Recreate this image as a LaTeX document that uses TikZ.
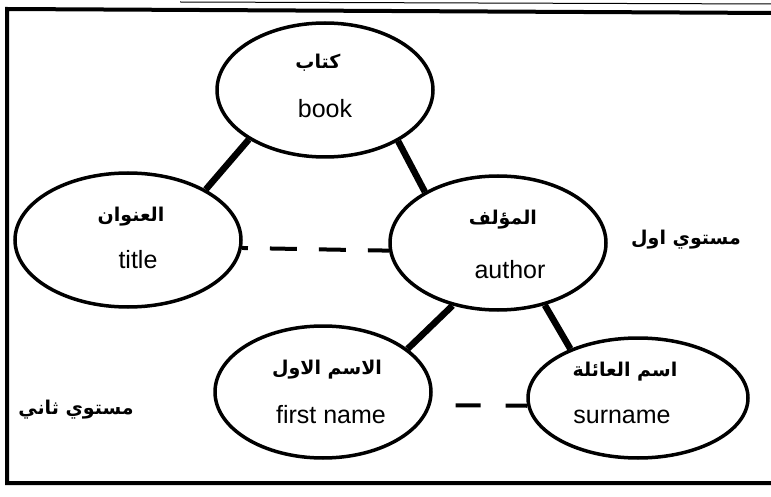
\documentclass[tikz,border=0pt]{standalone}
\usepackage{fontspec}
\setmainfont{Liberation Sans}
\newfontfamily\arabicfont[Script=Arabic]{DejaVu Sans}
\TeXXeTstate=1
\usetikzlibrary{shapes.geometric, positioning}

\begin{document}
\begin{tikzpicture}[x=1pt, y=-1pt,
    entity/.style={ellipse, draw, line width=3.5pt, minimum width=216pt, minimum height=134pt, inner sep=0pt},
    link/.style={line width=6.5pt},
    rel/.style={line width=4pt},
    ar/.style={font=\arabicfont\bfseries\fontsize{19}{23}\selectfont},
    en/.style={font=\fontsize{25}{30}\selectfont, anchor=base}]
\useasboundingbox (0,0) rectangle (771,497);
\draw[line width=1pt] (180,2) -- (775,4);
\draw[line width=4pt] (775,13) -- (7,9) -- (7,483) -- (775,483);

\node[entity] (book) at (325,90) {};
\node[entity, minimum width=226pt] (title) at (128,240) {};
\node[entity] (author) at (498,243) {};
\node[entity, minimum height=132pt] (first) at (323,392) {};
\node[entity, minimum width=220pt, minimum height=120pt] (surname) at (638,398) {};

\node[ar] (bookar) at (318,63) {\beginR كتاب\endR};
\node[en] (booken) at (325,118) {book};
\node[ar] (titlear) at (131,217) {\beginR العنوان\endR};
\node[en] (titleen) at (138,268) {title};
\node[ar] (authorar) at (503,220) {\beginR المؤلف\endR};
\node[en] (authoren) at (510,278) {author};
\node[ar] (firstar) at (327,370) {\beginR الاسم الاول\endR};
\node[en] (firsten) at (331,423) {first name};
\node[ar] (surnamear) at (625,372) {\beginR اسم العائلة\endR};
\node[en] (surnameen) at (622,423) {surname};

\node[ar] (level1) at (686,240) {\beginR مستوي اول\endR};
\node[ar] (level2) at (76,410) {\beginR مستوي ثاني\endR};

\draw[link] (book.213) -- (title.33);
\draw[link] (book.-35) -- (author.145);
\draw[link] (author.234) -- (first.27);
\draw[link] (author.-53) -- (surname.144);

\draw[rel, dash pattern=on 27pt off 22pt, dash phase=21pt] (title.-4) -- (author.184);
\draw[rel, dash pattern=on 25pt off 25pt, dash phase=25pt] (first.-7) -- (surname.184);
\end{tikzpicture}
\end{document}
